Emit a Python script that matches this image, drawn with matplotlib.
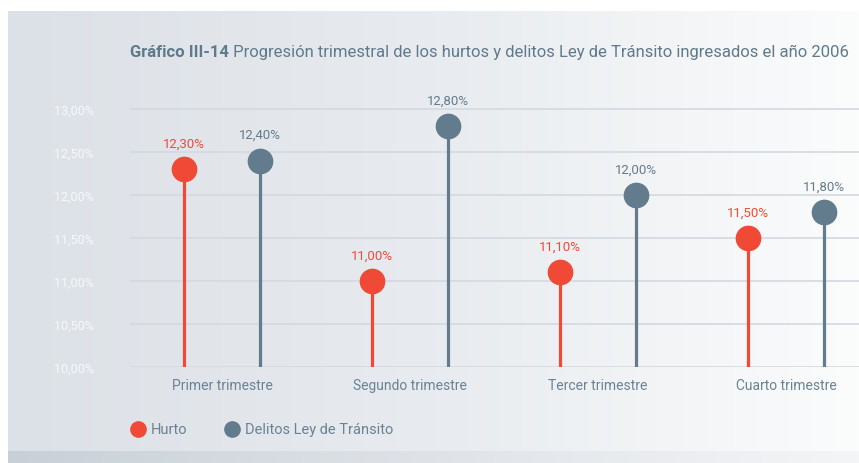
import numpy as np
import matplotlib
matplotlib.use("Agg")
import matplotlib.pyplot as plt
from matplotlib.colors import LinearSegmentedColormap

plt.rcParams['font.family'] = ['Roboto', 'DejaVu Sans']

categories = ["Primer trimestre", "Segundo trimestre", "Tercer trimestre", "Cuarto trimestre"]
hurto = [12.30, 11.00, 11.10, 11.50]
transito = [12.40, 12.80, 12.00, 11.80]
series_names = ["Hurto", "Delitos Ley de Tránsito"]
yticks = [10.0, 10.5, 11.0, 11.5, 12.0, 12.5, 13.0]

RED = "#f04a36"
GREY = "#637c8d"
TXT = "#6a8293"

W, H = 859, 464
fig = plt.figure(figsize=(W / 100, H / 100), dpi=100)
fig.patch.set_facecolor("white")

# panel background with gradient
bg = fig.add_axes([8 / W, 12 / H, 1 - 8 / W, (452 - 12) / H])
grad = LinearSegmentedColormap.from_list("bg", ["#dce1e7", "#e8ebef", "#fbfcfc"])
bg.imshow(np.linspace(0, 1, 256)[None, :], aspect="auto", cmap=grad, extent=[0, 1, 0, 1])
bg.set_axis_off()
strip = fig.add_axes([8 / W, 0, 1 - 8 / W, 12 / H])
grad2 = LinearSegmentedColormap.from_list("st", ["#c8d0d7", "#dfe3e8", "#f4f5f7"])
strip.imshow(np.linspace(0, 1, 256)[None, :], aspect="auto", cmap=grad2, extent=[0, 1, 0, 1])
strip.set_axis_off()

# main axes: y 10.00 at px 368, 13.00 at px 110
left, right = 130, 859
ybot, ytop = 368, 60
y0 = 10.0
y1 = 10.0 + (368 - ytop) / 86.0
ax = fig.add_axes([left / W, (H - ybot) / H, (right - left) / W, (ybot - ytop) / H])
ax.patch.set_alpha(0)
x = np.arange(len(categories))
ax.set_xlim((left - 222) / 188.0, (right - 222) / 188.0)
ax.set_ylim(y0, y1)

for t in yticks:
    ax.axhline(t, color="#d3d9e1", lw=1.2, zorder=0)

off = 0.2
for xs, vals, col in [(x - off, hurto, RED), (x + off, transito, GREY)]:
    ax.vlines(xs, y0, vals, color=col, lw=2.3, zorder=2)
    ax.plot(xs, vals, "o", color=col, ms=17.5, zorder=3)
    for xi, v in zip(xs, vals):
        ax.annotate(f"{v:.2f}%".replace(".", ","), (xi, v), xytext=(0, 14),
                    textcoords="offset points", ha="center", va="bottom",
                    color=col, fontsize=9.5)

ax.set_yticks(yticks)
ax.set_yticklabels([f"{t:.2f}%".replace(".", ",") for t in yticks],
                   color="#f7f8fa", fontsize=9)
ax.set_xticks(x)
ax.set_xticklabels(categories, color=TXT, fontsize=10)
ax.tick_params(axis="both", length=0)
ax.tick_params(axis="y", pad=26)
ax.tick_params(axis="x", pad=8)
for s in ax.spines.values():
    s.set_visible(False)

# title, shrunk so it spans about x=130..850 like the reference
title_a = "Gráfico III-14"
title_b = " Progresión trimestral de los hurtos y delitos Ley de Tránsito ingresados el año 2006"
fs = 14
r = fig.canvas.get_renderer()
for _ in range(3):
    ta = fig.text(0, 0, title_a, fontsize=fs, fontweight="bold")
    tb = fig.text(0, 0, title_b, fontsize=fs)
    w = ta.get_window_extent(r).width + tb.get_window_extent(r).width
    ta.remove()
    tb.remove()
    fs = fs * 720 / w
t1 = fig.text(130 / W, 1 - 57 / H, title_a, fontsize=fs, fontweight="bold",
              color="#5f7a8b", va="baseline")
ax.annotate(title_b, xy=(1, 0), xycoords=t1, va="bottom", ha="left", fontsize=fs,
            color="#5f7a8b", annotation_clip=False)

# legend
lx = [138, 232]
for px, name, col in zip(lx, series_names, [RED, GREY]):
    fig.lines.append(plt.Line2D([px / W], [1 - 430 / H], marker="o", ms=11,
                                color=col, transform=fig.transFigure, ls=""))
    fig.text((px + 13) / W, 1 - 430 / H, name, color=TXT, fontsize=10.5, va="center")

fig.savefig("out.png", dpi=100)
